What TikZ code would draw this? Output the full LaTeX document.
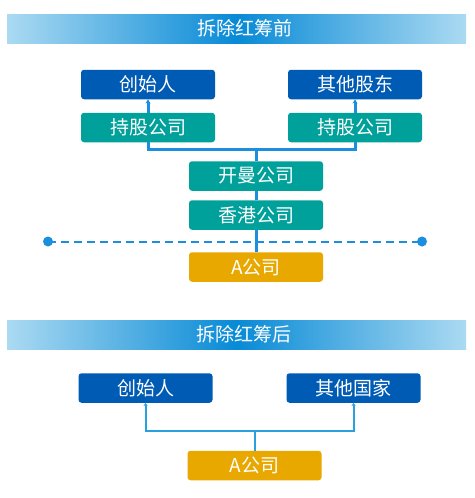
\documentclass[tikz,border=0pt]{standalone}
\usepackage{fontspec}
\usepackage{tikz}
\usetikzlibrary{arrows.meta}
\newfontfamily\cjk{Noto Sans CJK SC}
\definecolor{HCblue}{RGB}{0, 91, 181}
\definecolor{HCteal}{RGB}{0, 161, 154}
\definecolor{HCgold}{RGB}{232, 168, 0}
\definecolor{HCline}{RGB}{27, 143, 221}
\definecolor{HCthin}{RGB}{41, 160, 224}
\definecolor{HCbarmid}{RGB}{8, 138, 214}
\definecolor{HCbaredge}{RGB}{171, 218, 242}

\begin{document}
\begin{tikzpicture}[x=1pt,y=-1pt,
    box/.style={minimum width=134pt,minimum height=29.5pt,inner sep=0pt,rounded corners=3pt,
                text=white,font=\cjk\fontsize{19}{22}\selectfont},
    ownerbox/.style={box,fill=HCblue},
    holdbox/.style={box,fill=HCteal},
    cobox/.style={box,fill=HCgold},
    bartext/.style={text=white,font=\cjk\fontsize{19}{22}\selectfont},
    link/.style={HCline,line width=3pt},
    thinlink/.style={HCthin,line width=2pt}]
                \useasboundingbox (0,0) rectangle (474,498);
                % before
                \shade[left color=HCbaredge,right color=HCbaredge,middle color=HCbarmid] (7,14) rectangle (466,43);
                \node[bartext] (titlepre) at (245,28.5) {拆除红筹前};
                \node[ownerbox] (founder) at (148,84.5) {创始人};
                \node[ownerbox] (others) at (355,84.5) {其他股东};
                \node[holdbox] (holdl) at (148,127.5) {持股公司};
                \node[holdbox] (holdr) at (355,127.5) {持股公司};
                \node[holdbox] (cayman) at (256,176) {开曼公司};
                \node[holdbox] (hk) at (256,215) {香港公司};
                \node[cobox] (aco) at (256,267) {A公司};
                \coordinate (fork) at (256,149);
                \coordinate (borderl) at (48,241.5);
                \coordinate (borderr) at (422,241.5);
                \draw[HCline,line width=2pt,dash pattern=on 8pt off 5pt] (borderl) -- (borderr);
                \foreach \p in {borderl,borderr} {\fill[HCline] (\p) circle (5pt);}
                \draw[link] (aco.north) -- (hk.south);
                \draw[link] (hk.north) -- (cayman.south);
                \draw[link] (cayman.north) -- (fork);
                \draw[link] (holdl.south) |- (fork) -| (holdr.south);
                \draw[link,-{Stealth[length=4pt,width=5pt]}] (holdl.north) -- (founder.south);
                \draw[link,-{Stealth[length=4pt,width=5pt]}] (holdr.north) -- (others.south);
                % after
                \shade[left color=HCbaredge,right color=HCbaredge,middle color=HCbarmid] (7,320) rectangle (466,349);
                \node[bartext] (titlepost) at (244,334.5) {拆除红筹后};
                \node[ownerbox] (founderb) at (145.5,388) {创始人};
                \node[ownerbox] (statesb) at (353.5,388) {其他国家};
                \node[cobox] (acob) at (254.5,465.5) {A公司};
                \coordinate (forkb) at (254.5,431);
                \draw[thinlink] (acob.north) -- (forkb);
                \draw[thinlink,-{Stealth[length=3pt,width=4pt]}] (forkb) -| (founderb.south);
                \draw[thinlink,-{Stealth[length=3pt,width=4pt]}] (forkb) -| (statesb.south);
\end{tikzpicture}
\end{document}
